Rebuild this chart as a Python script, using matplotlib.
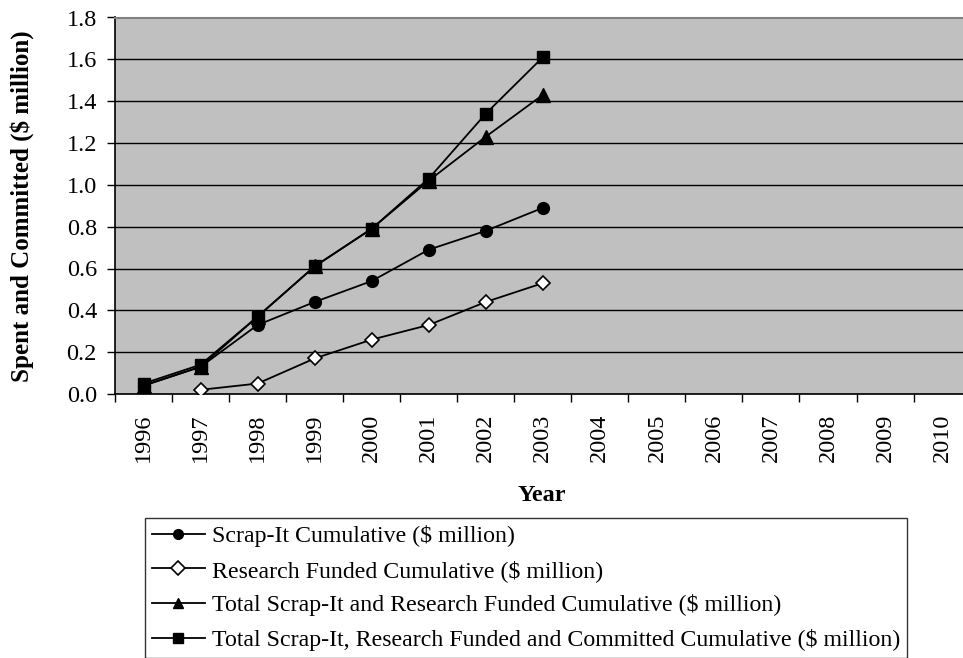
import matplotlib
matplotlib.use("Agg")
import matplotlib.pyplot as plt
import numpy as np

years = ["1996", "1997", "1998", "1999", "2000", "2001", "2002", "2003",
         "2004", "2005", "2006", "2007", "2008", "2009", "2010"]

scrap_years = years[:8]
scrap_it = [0.04, 0.13, 0.33, 0.44, 0.54, 0.69, 0.78, 0.89]

research_years = years[1:8]
research = [0.02, 0.05, 0.17, 0.26, 0.33, 0.44, 0.53]

total_years = years[:8]
total_scrap_research = [0.04, 0.13, 0.37, 0.61, 0.79, 1.02, 1.23, 1.43]

committed_years = years[:8]
total_committed = [0.05, 0.14, 0.37, 0.61, 0.79, 1.03, 1.34, 1.61]

labels = [
    "Scrap-It Cumulative ($ million)",
    "Research Funded Cumulative ($ million)",
    "Total Scrap-It and Research Funded Cumulative ($ million)",
    "Total Scrap-It, Research Funded and Committed Cumulative ($ million)",
]

plt.rcParams["font.family"] = ["Liberation Serif", "DejaVu Serif"]

W, H = 963, 658
fig = plt.figure(figsize=(W / 100, H / 100), dpi=100)

left_px, right_px, top_px, bottom_px = 115, 970.6, 17.5, 394
ax = fig.add_axes([left_px / W, 1 - bottom_px / H,
                   (right_px - left_px) / W, (bottom_px - top_px) / H])
ax.set_facecolor("#C0C0C0")

pos = {y: i + 0.5 for i, y in enumerate(years)}

def xs(yrs):
    return [pos[y] for y in yrs]

lw = 1.3
ax.plot(xs(scrap_years), scrap_it, color="black", lw=lw, marker="o",
        ms=8.5, mfc="black", mec="black", label=labels[0], zorder=3)
ax.plot(xs(research_years), research, color="black", lw=lw, marker="D",
        ms=7.5, mfc="white", mec="black", mew=1.2, label=labels[1], zorder=3)
ax.plot(xs(total_years), total_scrap_research, color="black", lw=lw,
        marker="^", ms=10, mfc="black", mec="black", label=labels[2], zorder=3)
ax.plot(xs(committed_years), total_committed, color="black", lw=lw,
        marker="s", ms=8.5, mfc="black", mec="black", label=labels[3], zorder=4)

fs = 17.5
ax.set_xlim(0, len(years))
ax.set_ylim(0, 1.8)
ax.set_yticks(np.arange(0, 1.81, 0.2))
ax.set_yticklabels([f"{v:.1f}" for v in np.arange(0, 1.81, 0.2)], fontsize=fs)
ax.yaxis.grid(True, color="black", lw=1.0)
ax.set_axisbelow(True)

ax.set_xticks([pos[y] for y in years])
ax.set_xticklabels(years, rotation=90, fontsize=fs)
ax.set_xticks(np.arange(0, len(years) + 1), minor=True)
ax.tick_params(axis="x", which="major", length=0, pad=14)
ax.tick_params(axis="x", which="minor", length=6, width=1, direction="out")
ax.tick_params(axis="y", length=6, width=1, direction="out", pad=7)

for side in ("left", "bottom"):
    ax.spines[side].set_color("black")
    ax.spines[side].set_linewidth(1.2)
ax.spines["top"].set_color("#808080")
ax.spines["top"].set_linewidth(1.5)
ax.spines["right"].set_visible(False)

ax.set_xlabel("Year", fontsize=fs, fontweight="bold")
ax.xaxis.set_label_coords((542 - left_px) / (right_px - left_px),
                          -(495 - bottom_px) / (bottom_px - top_px))
ax.set_ylabel("Spent and Committed ($ million)", fontsize=18,
              fontweight="bold")
ax.yaxis.set_label_coords(-(left_px - 22) / (right_px - left_px), 0.5)
ax.yaxis.label.set_verticalalignment("center")
ax.xaxis.label.set_verticalalignment("center")

leg = fig.legend(loc="upper left", bbox_to_anchor=(145 / W, 1 - 518 / H),
                 fontsize=17.2, frameon=True, fancybox=False, edgecolor="black",
                 borderpad=0.3, labelspacing=0.53, handlelength=2.2,
                 handletextpad=0.3, borderaxespad=0)
leg.get_frame().set_linewidth(1.0)
for h in leg.legend_handles:
    h.set_markersize(7)

fig.savefig("out.png", dpi=100)
